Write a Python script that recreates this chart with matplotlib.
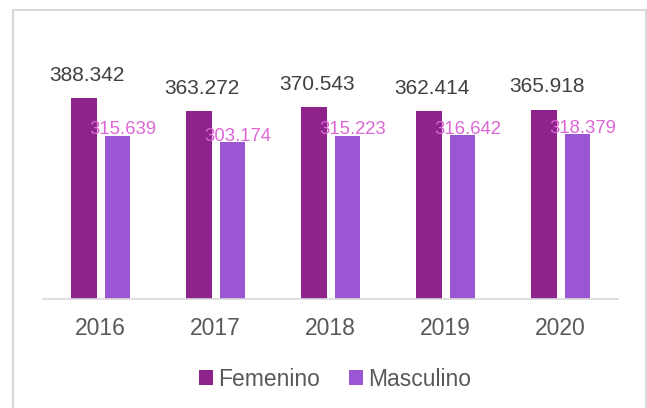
import numpy as np
import matplotlib.pyplot as plt
from matplotlib.patches import Rectangle

plt.rcParams['font.family'] = ['Liberation Sans', 'DejaVu Sans']

years = ['2016', '2017', '2018', '2019', '2020']
femenino = [388.342, 363.272, 370.543, 362.414, 365.918]
masculino = [315.639, 303.174, 315.223, 316.642, 318.379]

col_fem = '#8E248B'
col_mas = '#9B57D3'
col_lab_mas = '#DD66D6'

fig = plt.figure(figsize=(6.47, 4.08), dpi=100)
ax = fig.add_axes([0.0665, 0.267, 0.889, 0.571])

x = np.arange(len(years))
w = 0.22
off = 0.145
b1 = ax.bar(x - off, femenino, w, color=col_fem, label='Femenino')
b2 = ax.bar(x + off, masculino, w, color=col_mas, label='Masculino')

# etiquetas de datos
for xi, v in zip(x, femenino):
    ax.annotate(f'{v:.3f}', (xi - off, v), xytext=(2, 12.5), textcoords='offset points',
                ha='center', va='baseline', fontsize=15, color='#404040')
for xi, v in zip(x, masculino):
    ax.annotate(f'{v:.3f}', (xi + off, v), xytext=(4, 1), textcoords='offset points',
                ha='center', va='baseline', fontsize=13.3, color=col_lab_mas)

ax.set_xlim(-0.5, len(years) - 0.5)
ax.set_ylim(0, 450)
ax.set_xticks(x)
ax.set_xticklabels(years, fontsize=16.5, color='#595959')
ax.tick_params(axis='x', length=0, pad=13)
ax.set_yticks([])
for s in ['top', 'right', 'left']:
    ax.spines[s].set_visible(False)
ax.spines['bottom'].set_color('#D9D9D9')
ax.spines['bottom'].set_linewidth(1.2)

leg = fig.legend(handles=[b1, b2], loc='center', bbox_to_anchor=(335 / 647, 1 - 379 / 408),
                 ncol=2, frameon=False, fontsize=16.5, handlelength=0.6, handleheight=0.6,
                 handletextpad=0.2, columnspacing=1.3)
for t in leg.get_texts():
    t.set_color('#595959')

# borde del grafico
fig.patches.append(Rectangle((13 / 647, -0.1), (646 - 13) / 647, 1.1 - 10 / 408,
                             transform=fig.transFigure, fill=False,
                             edgecolor='#D9D9D9', linewidth=1.5))

fig.savefig('out.png', dpi=100)
